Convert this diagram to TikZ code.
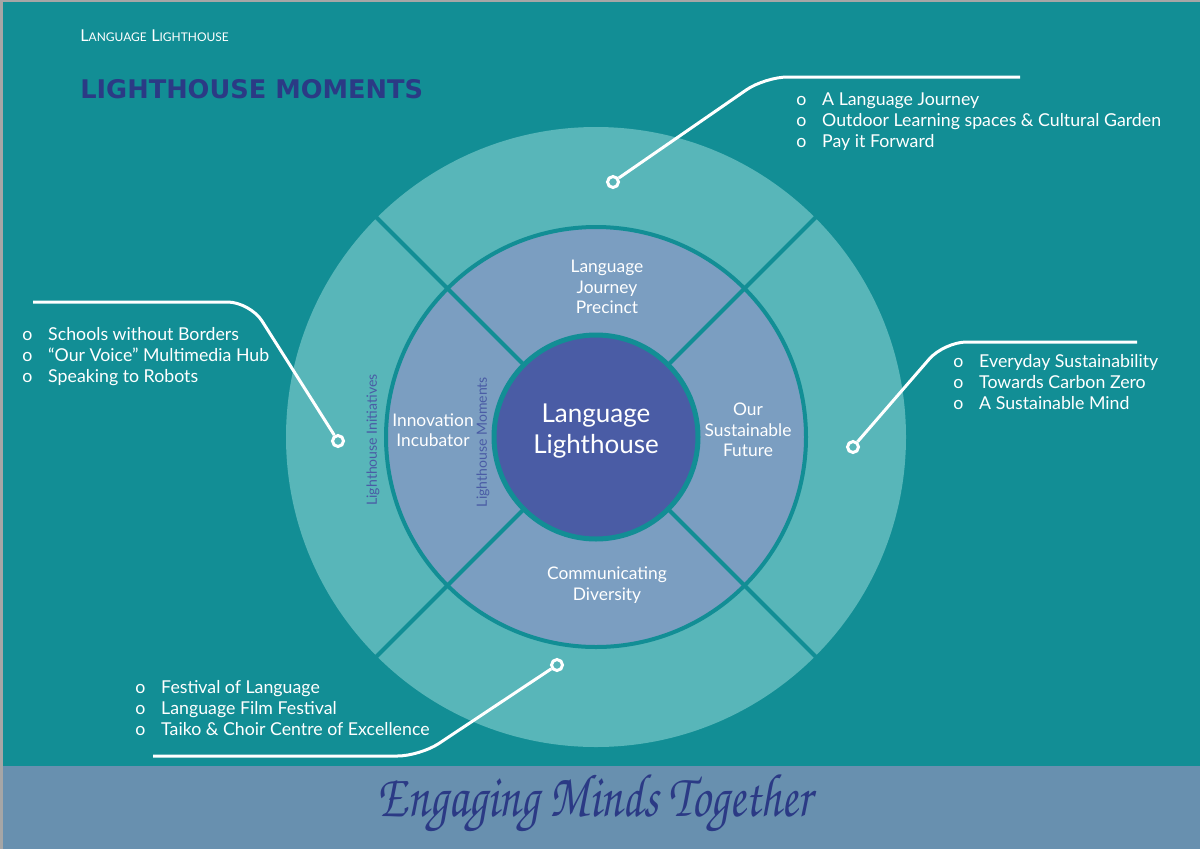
\documentclass[tikz,border=0pt]{standalone}
\usepackage[T1]{fontenc}
\usepackage{fontspec}
\setmainfont{Lato}
\newfontfamily\headfont{DejaVu Sans}
\usepackage{xcolor}
\usepackage{tikz}
\usetikzlibrary{positioning,calc}
\definecolor{seateal}{RGB}{18,142,149}
\definecolor{lightteal}{RGB}{88,182,185}
\definecolor{slateblue}{RGB}{123,158,193}
\definecolor{coreblue}{RGB}{74,92,165}
\definecolor{navy}{RGB}{43,58,133}
\definecolor{bandblue}{RGB}{104,144,175}
\newcommand{\scriptfamily}{\usefont{T1}{pzc}{mb}{it}}
\newcommand{\fakesc}[2]{{\fontsize{9.3}{12}\selectfont #1}{\fontsize{6.8}{12}\selectfont #2}}

\begin{document}
\begin{tikzpicture}[x=0.02cm,y=-0.02cm,
    link/.style={draw=white,line width=0.06cm,rounded corners=0.45cm},
    pin/.style={circle,draw=white,line width=0.06cm,fill=lightteal,minimum size=0.22cm,inner sep=0pt},
    divider/.style={draw=seateal,line width=0.08cm},
    items/.style={text=white,anchor=north west,inner sep=0pt,font=\fontsize{10.1}{12}\selectfont},
    sector/.style={text=white,align=center,font=\fontsize{9.9}{11.6}\selectfont},
    sidelbl/.style={text=coreblue,rotate=90,font=\fontsize{8}{9}\selectfont}
]
\useasboundingbox (0,0) rectangle (1200,849);
\fill[seateal] (0,0) rectangle (1200,849);
\fill[bandblue] (0,766) rectangle (1200,849);
\fill[gray!70] (0,0) rectangle (1200,2);
\fill[gray!70] (0,0) rectangle (3,849);

\coordinate (ctr) at (596,437);
\fill[lightteal] (ctr) circle (310);
\fill[slateblue] (ctr) circle (210);
\foreach \a in {45,135,225,315}
    \draw[divider] ($(ctr)+(\a:100)$) -- ($(ctr)+(\a:312)$);
\draw[draw=seateal,line width=0.08cm] (ctr) circle (210);
\draw[fill=coreblue,draw=seateal,line width=0.1cm] (ctr) circle (102);

\node[text=white,anchor=base west,inner sep=0pt] (brand) at (80,41)
    {\fakesc{L}{ANGUAGE} \fakesc{L}{IGHTHOUSE}};
\node[text=navy,anchor=base west,inner sep=0pt,
    font=\headfont\bfseries\fontsize{14.6}{16}\selectfont] (title) at (80,98) {LIGHTHOUSE MOMENTS};

\node[text=white,align=center,font=\fontsize{14.8}{17.6}\selectfont] (core) at (596,431) {Language\\Lighthouse};
\node[sector] (journey) at (607,287) {Language\\Journey\\Precinct};
\node[sector] (incubator) at (433,430) {Innovation\\Incubator};
\node[sector] (future) at (748,430) {Our\\Sustainable\\Future};
\node[sector] (diversity) at (607,585) {Communicating\\Diversity};
\node[sidelbl] (initiatives) at (373,440) {Lighthouse Initiatives};
\node[sidelbl] (moments) at (483,442) {Lighthouse Moments};

\node[items] (outdoor) at (796,90) {\begin{tabular}{@{}l@{\hspace{9pt}}l@{}}
    o & A Language Journey\\
    o & Outdoor Learning spaces \& Cultural Garden\\
    o & Pay it Forward
\end{tabular}};
\node[items] (borders) at (22,325) {\begin{tabular}{@{}l@{\hspace{9pt}}l@{}}
    o & Schools without Borders\\
    o & ``Our Voice'' Multimedia Hub\\
    o & Speaking to Robots
\end{tabular}};
\node[items] (carbon) at (953,352) {\begin{tabular}{@{}l@{\hspace{9pt}}l@{}}
    o & Everyday Sustainability\\
    o & Towards Carbon Zero\\
    o & A Sustainable Mind
\end{tabular}};
\node[items] (festival) at (135,678) {\begin{tabular}{@{}l@{\hspace{9pt}}l@{}}
    o & Festival of Language\\
    o & Language Film Festival\\
    o & Taiko \& Choir Centre of Excellence
\end{tabular}};

\node[pin] (pinA) at (613,182) {};
\coordinate (bendA) at (765,77);
\coordinate (endA) at (1020,77);
\draw[link] (pinA) -- (bendA) -- (endA);

\node[pin] (pinB) at (338,441) {};
\coordinate (bendB) at (250,302);
\coordinate (endB) at (33,302);
\draw[link] (endB) -- (bendB) -- (pinB);

\node[pin] (pinC) at (853,447) {};
\coordinate (bendC) at (944,342);
\coordinate (endC) at (1137,342);
\draw[link] (pinC) -- (bendC) -- (endC);

\node[pin] (pinD) at (557,665) {};
\coordinate (bendD) at (420,756);
\coordinate (endD) at (153,756);
\draw[link] (endD) -- (bendD) -- (pinD);

\node[text=navy,font=\scriptfamily\fontsize{28}{30}\selectfont] (tagline) at (595,804)
    {\scalebox{0.96}[1.25]{Engaging Minds Together}};

\end{tikzpicture}
\end{document}
